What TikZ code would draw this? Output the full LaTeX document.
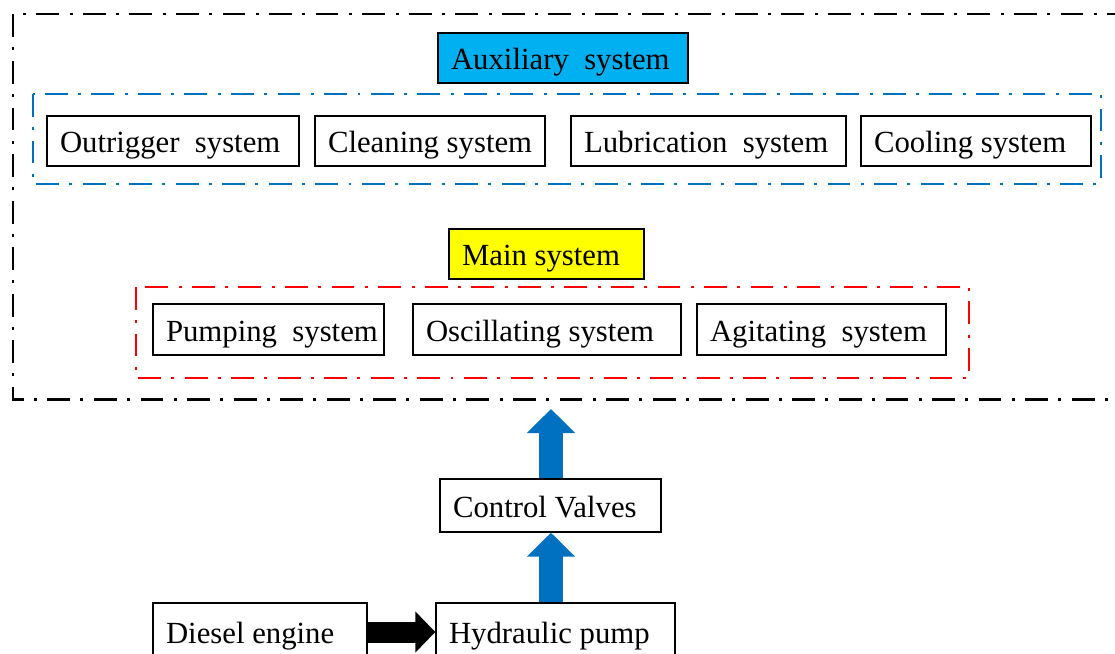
\documentclass[tikz,border=0pt]{standalone}
\usepackage{fontspec}
\setmainfont{Liberation Serif}
\usetikzlibrary{arrows.meta}
\definecolor{auxblue}{RGB}{0,176,240}
\definecolor{lineblue}{RGB}{0,112,192}
\definecolor{mainyellow}{RGB}{255,255,0}
\begin{document}
\begin{tikzpicture}[x=0.02cm, y=-0.02cm,
  sysbox/.style={draw, line width=0.8pt, minimum height=1cm, inner ysep=0pt, inner xsep=0.26cm, align=flush left, text height=17pt, text depth=3.4pt, font=\fontsize{17.5}{20}\selectfont},
  dashdot/.style={dash pattern=on 13pt off 5.8pt on 1.7pt off 6pt},
  fatarrow/.style={line width=0.48cm, lineblue, -{Triangle[length=0.48cm, width=0.94cm]}}]
\useasboundingbox (0,0) rectangle (1115,653);
\clip (0,0) rectangle (1115,653);
\draw[line width=1.7pt, dashdot] (1130,14) -- (13,14) -- (13,399) -- (1130,399);
\node[sysbox, fill=auxblue, text width=4.48cm] (aux) at (563,58) {\mbox{Auxiliary\ \ system}};
\draw[line width=1.5pt, lineblue, dashdot] (33,94) rectangle (1101,184);
\node[sysbox, text width=4.52cm] (out) at (173,141) {\mbox{Outrigger\ \ system}};
\node[sysbox, text width=4.08cm] (cle) at (430,141) {\mbox{Cleaning system}};
\node[sysbox, text width=4.98cm] (lub) at (708.5,141) {\mbox{Lubrication\ \ system}};
\node[sysbox, text width=4.08cm] (coo) at (976,141) {\mbox{Cooling system}};
\node[sysbox, fill=mainyellow, text width=3.38cm] (main) at (546.5,254) {\mbox{Main system}};
\draw[line width=1.5pt, red, dashdot] (136,287) rectangle (969,378);
\node[sysbox, text width=4.1cm, minimum height=1.02cm] (pum) at (268.5,329.5) {\mbox{Pumping\ \ system}};
\node[sysbox, text width=4.84cm, minimum height=1.02cm] (osc) at (547,329.5) {\mbox{Oscillating system}};
\node[sysbox, text width=4.46cm, minimum height=1.02cm] (agi) at (821.5,329.5) {\mbox{Agitating\ \ system}};
\node[sysbox, text width=3.9cm, minimum height=1.06cm] (cv) at (550.5,505.5) {\mbox{Control\ Valves}};
\node[sysbox, text width=3.76cm, minimum height=1.16cm] (de) at (260,632) {\mbox{Diesel engine}};
\node[sysbox, text width=4.26cm, minimum height=1.16cm] (hp) at (555.5,632) {\mbox{Hydraulic pump}};
\coordinate (tip) at (551,409);
\draw[fatarrow] (cv.north -| tip) -- (tip);
\draw[fatarrow] (hp.north -| tip) -- (cv.south -| tip);
\draw[line width=0.42cm, -{Triangle[length=0.4cm, width=0.8cm]}] (de.east) -- (hp.west);
\end{tikzpicture}
\end{document}
